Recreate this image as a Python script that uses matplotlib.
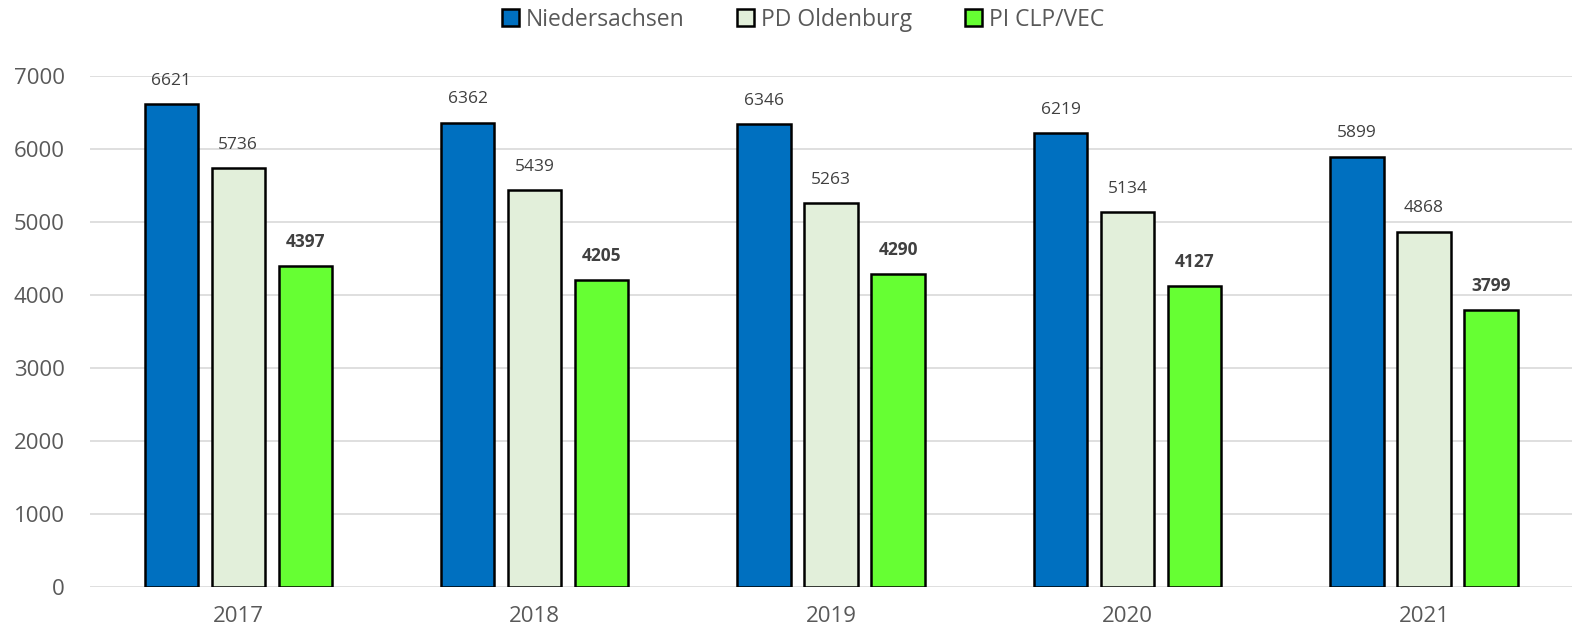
import numpy as np
import matplotlib.pyplot as plt

years = ['2017', '2018', '2019', '2020', '2021']
niedersachsen = [6621, 6362, 6346, 6219, 5899]
pd_oldenburg = [5736, 5439, 5263, 5134, 4868]
pi_clp_vec = [4397, 4205, 4290, 4127, 3799]

series = [
    ('Niedersachsen', niedersachsen, '#0070C0', 'normal'),
    ('PD Oldenburg', pd_oldenburg, '#E2EFDA', 'normal'),
    ('PI CLP/VEC', pi_clp_vec, '#66FF33', 'bold'),
]

plt.rcParams['font.family'] = ['Open Sans', 'DejaVu Sans']

fig = plt.figure(figsize=(15.87, 6.35), dpi=100)
ax = fig.add_axes([0.0567, 0.0756, 0.934, 0.8044])

x = np.arange(len(years))
width = 0.18
step = 0.226

for i, (name, vals, color, weight) in enumerate(series):
    pos = x + (i - 1) * step
    bars = ax.bar(pos, vals, width, color=color, edgecolor='black',
                  linewidth=1.8, label=name, zorder=3)
    for b, v in zip(bars, vals):
        ax.annotate(str(v), (b.get_x() + b.get_width() / 2, v),
                    xytext=(0, 11), textcoords='offset points',
                    ha='center', va='bottom', fontsize=12.5,
                    color='#404040', fontweight=weight)

ax.set_xlim(-0.5, len(years) - 0.5)
ax.set_ylim(0, 7000)
ax.set_yticks(range(0, 7001, 1000))
ax.set_xticks(x)
ax.set_xticklabels(years)
ax.yaxis.grid(True, color='#D9D9D9', linewidth=1.2, zorder=0)
ax.set_axisbelow(True)
for s in ax.spines.values():
    s.set_visible(False)
ax.tick_params(axis='both', length=0, labelsize=16, colors='#595959')
ax.tick_params(axis='x', pad=14)
ax.tick_params(axis='y', pad=18)

leg = fig.legend(loc='center', bbox_to_anchor=(0.506, 0.969), ncol=3,
                 frameon=False, fontsize=16.5, handlelength=0.75,
                 handleheight=0.75, handletextpad=0.3, columnspacing=2.3)
for t in leg.get_texts():
    t.set_color('#595959')

fig.savefig('out.png', dpi=100)
